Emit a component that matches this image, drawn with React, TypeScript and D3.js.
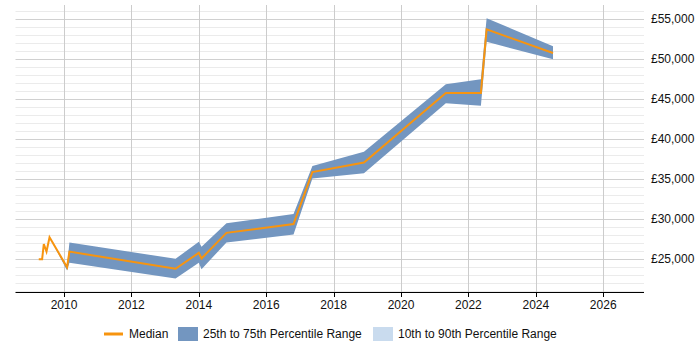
import * as d3 from "d3";

// Sample dates (decimal years) with median and quartile salaries
const dates = [
  2009.25, 2009.35, 2009.4, 2009.48, 2009.57, 2010.09, 2010.16, 2013.31, 2014.0,
  2014.08, 2014.82, 2016.81, 2017.37, 2018.9, 2021.33, 2022.37, 2022.54, 2024.51,
];
const median = [
  25000, 25000, 26900, 25950, 27750, 24000, 25950, 23800, 25800,
  25100, 28300, 29400, 35900, 37100, 45800, 45800, 53750, 50800,
];
const p25 = [
  25000, 25000, 26900, 25950, 27750, 23600, 24550, 22600, 24550,
  23750, 27100, 28100, 35100, 35750, 44500, 44200, 52200, 50000,
];
const p75 = [
  25000, 25000, 26900, 25950, 27750, 24100, 27100, 25050, 27200,
  26550, 29500, 30650, 36650, 38450, 46900, 47500, 55150, 51650,
];

const yearTicks = [2010, 2012, 2014, 2016, 2018, 2020, 2022, 2024, 2026];
const salaryTicks = [25000, 30000, 35000, 40000, 45000, 50000, 55000];

const legendLabels = ["Median", "25th to 75th Percentile Range", "10th to 90th Percentile Range"];
const legendColors = ["#f7940f", "#7396c0", "#c9dbee"];

export default function App() {
  const width = 700;
  const height = 350;
  const left = 15.5;
  const right = 644;
  const top = 5;
  const bottom = 292;

  const x = d3.scaleLinear().domain([2008.56, 2027.21]).range([left, right]);
  const y = d3.scaleLinear().domain([20900, 56800]).range([bottom, top]);

  const rows = dates.map((d, i) => ({ d, m: median[i], lo: p25[i], hi: p75[i] }));

  const band = d3
    .area<(typeof rows)[number]>()
    .x((r) => x(r.d))
    .y0((r) => y(r.lo))
    .y1((r) => y(r.hi));

  const line = d3
    .line<(typeof rows)[number]>()
    .x((r) => x(r.d))
    .y((r) => y(r.m));

  const minorTicks = d3.range(21000, 57000, 1000);
  const fmt = (v: number) => "£" + d3.format(",")(v);

  // legend entries laid out left to right
  const legendStarts = [104, 178, 373];
  const legendY = 334;

  return (
    <svg
      width={width}
      height={height}
      style={{ position: "absolute", left: 0, top: 0, fontFamily: "Liberation Sans, Arial, sans-serif" }}
    >
      <rect width={width} height={height} fill="#fff" />

      {/* horizontal grid: light every 1000, darker every 5000 */}
      {minorTicks.map((v) => (
        <line
          key={v}
          x1={left}
          x2={right}
          y1={Math.round(y(v)) + 0.5}
          y2={Math.round(y(v)) + 0.5}
          stroke={v % 5000 === 0 ? "#d0d0d0" : "#ebebeb"}
        />
      ))}

      {/* vertical grid */}
      {yearTicks.map((t) => (
        <line
          key={t}
          x1={Math.round(x(t)) + 0.5}
          x2={Math.round(x(t)) + 0.5}
          y1={top}
          y2={bottom}
          stroke="#cccccc"
        />
      ))}

      <path d={band(rows) ?? ""} fill="#7396c0" />
      <path
        d={line(rows) ?? ""}
        fill="none"
        stroke="#f7940f"
        strokeWidth={2}
        strokeLinejoin="miter"
      />

      {/* x axis */}
      <line x1={left} x2={right} y1={bottom + 0.5} y2={bottom + 0.5} stroke="#000" />
      {yearTicks.map((t) => (
        <g key={t}>
          <line
            x1={Math.round(x(t)) + 0.5}
            x2={Math.round(x(t)) + 0.5}
            y1={bottom}
            y2={bottom + 5}
            stroke="#000"
          />
          <text x={x(t)} y={309} textAnchor="middle" fontSize={12} fill="#111">
            {t}
          </text>
        </g>
      ))}

      {/* y axis labels on the right */}
      {salaryTicks.map((v) => (
        <text key={v} x={651} y={y(v) + 4} fontSize={12} fill="#111">
          {fmt(v)}
        </text>
      ))}

      {/* legend */}
      {legendLabels.map((label, i) => {
        const x0 = legendStarts[i];
        return (
          <g key={label}>
            {i === 0 ? (
              <line x1={x0} x2={x0 + 19} y1={legendY} y2={legendY} stroke={legendColors[i]} strokeWidth={3} />
            ) : (
              <rect x={x0} y={legendY - 7} width={20} height={14} fill={legendColors[i]} />
            )}
            <text x={x0 + 25} y={legendY + 4} fontSize={12} fill="#111">
              {label}
            </text>
          </g>
        );
      })}
    </svg>
  );
}
